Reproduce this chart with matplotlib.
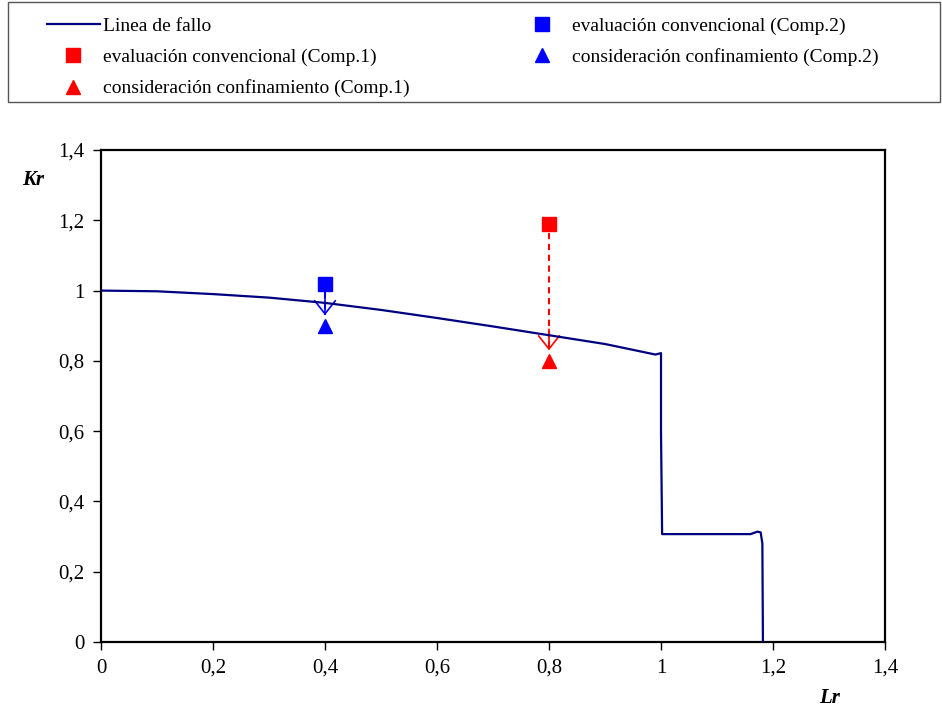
import numpy as np
import matplotlib
matplotlib.use("Agg")
import matplotlib.pyplot as plt
from matplotlib.ticker import FuncFormatter, MultipleLocator
from matplotlib.lines import Line2D
from matplotlib.patches import Rectangle

plt.rcParams['font.family'] = ['Liberation Serif', 'DejaVu Serif']

# failure line (Lr, Kr)
fallo_lr = [0.0, 0.1, 0.2, 0.3, 0.4, 0.5, 0.6, 0.7, 0.8, 0.9, 0.99, 1.0, 1.0, 1.002,
            1.05, 1.10, 1.16, 1.172, 1.178, 1.181, 1.182]
fallo_kr = [1.0, 0.998, 0.99, 0.98, 0.965, 0.945, 0.922, 0.898, 0.873, 0.848, 0.818, 0.822,
            0.60, 0.307, 0.307, 0.307, 0.307, 0.314, 0.312, 0.28, 0.0]

# assessment points
comp1_lr = 0.8
comp1_conv = 1.19
comp1_conf = 0.80
comp2_lr = 0.4
comp2_conv = 1.02
comp2_conf = 0.90

navy = '#000080'
red = '#ff0000'
blue = '#0000ff'
W, H = 942, 709

fig = plt.figure(figsize=(9.42, 7.09), dpi=100)
ax = fig.add_axes([0.1072, 0.0945, 0.8323, 0.6939])

ax.plot(fallo_lr, fallo_kr, color=navy, lw=1.6, zorder=3)

ax.plot(comp1_lr, comp1_conv, 's', color=red, ms=10, zorder=4)
ax.plot(comp1_lr, comp1_conf, '^', color=red, ms=10, zorder=4)
ax.plot(comp2_lr, comp2_conv, 's', color=blue, ms=10, zorder=4)
ax.plot(comp2_lr, comp2_conf, '^', color=blue, ms=10, zorder=4)

# dashed arrows from conventional to confinement point
for lr, y0, y1, c in [(comp1_lr, comp1_conv, comp1_conf, red),
                      (comp2_lr, comp2_conv, comp2_conf, blue)]:
    top = y0 - 0.025
    tip = y1 + 0.03
    ax.plot([lr, lr], [top, tip], color=c, lw=1.5, ls=(0, (3, 2.2)), zorder=2)
    ax.annotate('', xy=(lr, tip), xytext=(lr, tip + 0.06),
                arrowprops=dict(arrowstyle='->, head_length=0.95, head_width=0.75',
                                color=c, lw=1.2, shrinkA=0, shrinkB=0), zorder=2)

ax.set_xlim(0, 1.4)
ax.set_ylim(0, 1.4)
ax.xaxis.set_major_locator(MultipleLocator(0.2))
ax.yaxis.set_major_locator(MultipleLocator(0.2))


def coma(v, pos):
    if abs(v - round(v)) < 1e-9:
        return '%d' % round(v)
    return ('%.1f' % v).replace('.', ',')


ax.xaxis.set_major_formatter(FuncFormatter(coma))
ax.yaxis.set_major_formatter(FuncFormatter(coma))
ax.tick_params(direction='out', length=6, width=1, labelsize=15, pad=6)
for s in ax.spines.values():
    s.set_linewidth(1.6)

fig.text(33 / W, 1 - 180 / H, 'Kr', fontsize=15, fontweight='bold', style='italic',
         ha='center', va='center')
fig.text(830 / W, 1 - 698 / H, 'Lr', fontsize=15, fontweight='bold', style='italic',
         ha='center', va='center')

# legend: frame drawn by hand, two columns as two legends
fig.patches.append(Rectangle((8 / W, 1 - 102 / H), 932 / W, 100 / H,
                             transform=fig.transFigure, fill=False,
                             edgecolor='#555555', lw=1.0))

col1_h = [Line2D([], [], color=navy, lw=1.6),
          Line2D([], [], ls='', marker='s', color=red, ms=10),
          Line2D([], [], ls='', marker='^', color=red, ms=10)]
col1_l = ['Linea de fallo',
          'evaluación convencional (Comp.1)',
          'consideración confinamiento (Comp.1)']
col2_h = [Line2D([], [], ls='', marker='s', color=blue, ms=10),
          Line2D([], [], ls='', marker='^', color=blue, ms=10)]
col2_l = ['evaluación convencional (Comp.2)',
          'consideración confinamiento (Comp.2)']

kw = dict(loc='upper left', fontsize=14, frameon=False, handlelength=2.7,
          handletextpad=0.2, labelspacing=0.7, borderpad=0, borderaxespad=0)
fig.legend(col1_h, col1_l, bbox_to_anchor=(47 / W, 1 - 17 / H), **kw)
fig.legend(col2_h, col2_l, bbox_to_anchor=(516 / W, 1 - 17 / H), **kw)

fig.savefig('out.png', dpi=100)
